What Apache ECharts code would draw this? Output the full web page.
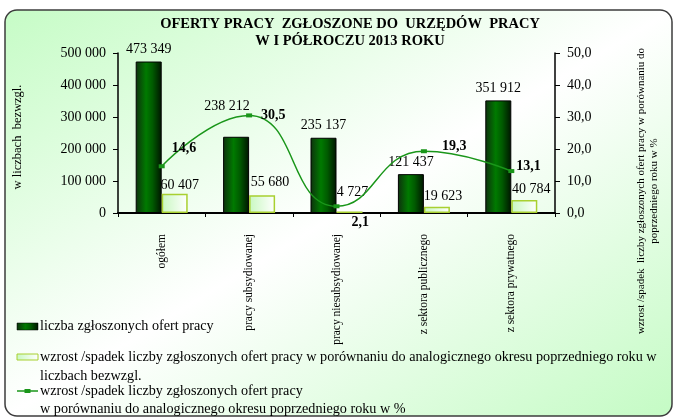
<!DOCTYPE html>
<html>
<head>
<meta charset="utf-8">
<script src="https://cdn.jsdelivr.net/npm/echarts@6/dist/echarts.min.js"></script>
<style>
  html, body { margin: 0; padding: 0; background: #ffffff; }
  #chart { width: 675px; height: 419px; }
</style>
</head>
<body>
<div id="chart"></div>
<script>
// Job offers reported to labour offices, first half of 2013
const categories = ['ogółem', 'pracy subsydiowanej', 'pracy niesubsydiowanej', 'z sektora publicznego', 'z sektora prywatnego'];
const offersCount = [473349, 238212, 235137, 121437, 351912];   // number of offers
const changeAbs = [60407, 55680, 4727, 19623, 40784];           // y/y change, absolute
const changePct = [14.6, 30.5, 2.1, 19.3, 13.1];                // y/y change, %

const leftAxisTitle = 'w liczbach  bezwzgl.';
const rightAxisTitle = 'wzrost /spadek  liczby zgłoszonych ofert pracy w porównaniu do\npoprzedniego roku w %';
const chartTitle = 'OFERTY PRACY  ZGŁOSZONE DO  URZĘDÓW  PRACY\nW I PÓŁROCZU 2013 ROKU';
const legendNames = [
  'liczba zgłoszonych ofert pracy',
  'wzrost /spadek liczby zgłoszonych ofert pracy w porównaniu do analogicznego okresu poprzedniego roku w\nliczbach bezwzgl.',
  'wzrost /spadek liczby zgłoszonych ofert pracy\nw porównaniu do analogicznego okresu poprzedniego roku w %'
];

// label nudges (px) so the value labels sit clear of the curve
const countLabelOffsets = [[0, 0], [-9, -18], [0, 0], [0, 0], [0, 0]];
const absLabelOffsets = [[5, 4], [8, -1], [3, -7], [6, 2], [7, 1]];
const pctLabelOffsets = [[2, -18], [4, 0], [7, 16], [10, -5], [-3, -5]];

const FONT = "'Liberation Serif', 'Times New Roman', serif";
const fmtInt = v => String(v).replace(/\B(?=(\d{3})+(?!\d))/g, ' ');
const fmtPct = v => Number(v).toFixed(1).replace('.', ',');

const darkFill = () => new echarts.graphic.LinearGradient(0, 0, 1, 0, [
  { offset: 0, color: '#0e300e' },
  { offset: 0.4, color: '#007a00' },
  { offset: 0.65, color: '#005a00' },
  { offset: 1, color: '#001400' }
]);
const lightFill = () => new echarts.graphic.LinearGradient(0, 0, 1, 0, [
  { offset: 0, color: '#c8f8c0' },
  { offset: 1, color: '#ffffff' }
]);
const LINE_COLOR = '#1a961a';
const LIGHT_BORDER = '#a8d030';
const LEGEND_FONT = 14.2;

const chart = echarts.init(document.getElementById('chart'), null, { renderer: 'canvas' });

const option = {
  backgroundColor: '#ffffff',
  animation: false,
  title: {
    text: chartTitle,
    left: 345,
    top: 11,
    textAlign: 'center',
    textStyle: { fontFamily: FONT, fontSize: 14.5, fontWeight: 'bold', color: '#000', lineHeight: 17 }
  },
  grid: { left: 118, right: 120, top: 53, bottom: 206, containLabel: false },
  xAxis: {
    type: 'category',
    data: categories,
    axisLine: { lineStyle: { color: '#000', width: 2 } },
    axisTick: { show: true, length: 4, lineStyle: { color: '#000', width: 1 } },
    axisLabel: { interval: 0, rotate: 90, margin: 21, fontFamily: FONT, fontSize: 11.5, color: '#000' },
    splitLine: { show: false }
  },
  yAxis: [
    {
      type: 'value', min: 0, max: 500000, interval: 100000,
      axisLine: { show: true, lineStyle: { color: '#000', width: 1.5 } },
      axisTick: { show: true, length: 5, lineStyle: { color: '#000' } },
      axisLabel: { formatter: fmtInt, fontFamily: FONT, fontSize: 14, color: '#000', margin: 12 },
      splitLine: { show: false }
    },
    {
      type: 'value', min: 0, max: 50, interval: 10,
      axisLine: { show: true, lineStyle: { color: '#000', width: 1.5 } },
      axisTick: { show: true, length: 5, lineStyle: { color: '#000' } },
      axisLabel: { formatter: fmtPct, fontFamily: FONT, fontSize: 14, color: '#000', margin: 12 },
      splitLine: { show: false }
    }
  ],
  series: [
    {
      name: legendNames[0],
      type: 'bar',
      barWidth: 26,
      barGap: '0%',
      itemStyle: { color: darkFill(), borderColor: '#000', borderWidth: 1 },
      label: { show: true, position: 'top', distance: 5, formatter: p => fmtInt(p.value), fontFamily: FONT, fontSize: 14, color: '#000' },
      data: offersCount.map((v, i) => ({ value: v, label: { offset: countLabelOffsets[i] } })),
      z: 3
    },
    {
      name: legendNames[1],
      type: 'bar',
      barWidth: 26,
      barGap: '0%',
      itemStyle: { color: lightFill(), borderColor: LIGHT_BORDER, borderWidth: 1.5 },
      label: { show: true, position: 'top', distance: 5, formatter: p => fmtInt(p.value), fontFamily: FONT, fontSize: 14, color: '#000' },
      data: changeAbs.map((v, i) => ({ value: v, label: { offset: absLabelOffsets[i] } })),
      z: 3
    },
    {
      name: legendNames[2],
      type: 'line',
      yAxisIndex: 1,
      smooth: 0.5,
      symbol: 'rect',
      symbolSize: [6, 4],
      lineStyle: { color: LINE_COLOR, width: 1.5 },
      itemStyle: { color: LINE_COLOR },
      label: { show: true, position: 'right', distance: 5, formatter: p => fmtPct(p.value), fontFamily: FONT, fontSize: 14, fontWeight: 'bold', color: '#000' },
      data: changePct.map((v, i) => ({ value: v, label: { offset: pctLabelOffsets[i] } })),
      z: 5
    }
  ],
  graphic: [
    // rounded chart-area frame with diagonal gradient
    {
      type: 'rect', z: -100, silent: true,
      shape: { x: 5, y: 10, width: 667, height: 406, r: 12 },
      style: {
        fill: new echarts.graphic.LinearGradient(158, -83, 520, 510, [
          { offset: 0, color: '#c6fcc6' },
          { offset: 0.5, color: '#ffffff' },
          { offset: 1, color: '#c4fbc4' }
        ], true),
        stroke: '#3c3c3c', lineWidth: 1.5
      }
    },
    // axis titles
    {
      type: 'text', x: 18, y: 137, rotation: Math.PI / 2, silent: true,
      style: { text: leftAxisTitle, fontFamily: FONT, fontSize: 12.5, fill: '#000', align: 'center', verticalAlign: 'middle' }
    },
    {
      type: 'text', x: 648, y: 191, rotation: Math.PI / 2, silent: true,
      style: { text: rightAxisTitle, fontFamily: FONT, fontSize: 11, lineHeight: 13, fill: '#000', align: 'center', verticalAlign: 'middle' }
    },
    // legend
    {
      type: 'rect', silent: true,
      shape: { x: 17, y: 323, width: 21, height: 7 },
      style: { fill: darkFill(), stroke: '#000', lineWidth: 0.5 }
    },
    {
      type: 'text', x: 40, y: 326, silent: true,
      style: { text: legendNames[0], fontFamily: FONT, fontSize: LEGEND_FONT, fill: '#000', verticalAlign: 'middle' }
    },
    {
      type: 'rect', silent: true,
      shape: { x: 17, y: 354, width: 21, height: 6 },
      style: { fill: lightFill(), stroke: LIGHT_BORDER, lineWidth: 1 }
    },
    {
      type: 'text', x: 40, y: 348, silent: true,
      style: { text: legendNames[1], fontFamily: FONT, fontSize: LEGEND_FONT, lineHeight: 19, fill: '#000', verticalAlign: 'top' }
    },
    {
      type: 'line', silent: true,
      shape: { x1: 17, y1: 391, x2: 38, y2: 391 },
      style: { stroke: LINE_COLOR, lineWidth: 1.5 }
    },
    {
      type: 'rect', silent: true,
      shape: { x: 24.5, y: 389, width: 6, height: 4 },
      style: { fill: LINE_COLOR }
    },
    {
      type: 'text', x: 40, y: 382, silent: true,
      style: { text: legendNames[2], fontFamily: FONT, fontSize: LEGEND_FONT, lineHeight: 18, fill: '#000', verticalAlign: 'top' }
    }
  ]
};

chart.setOption(option);
</script>
</body>
</html>
